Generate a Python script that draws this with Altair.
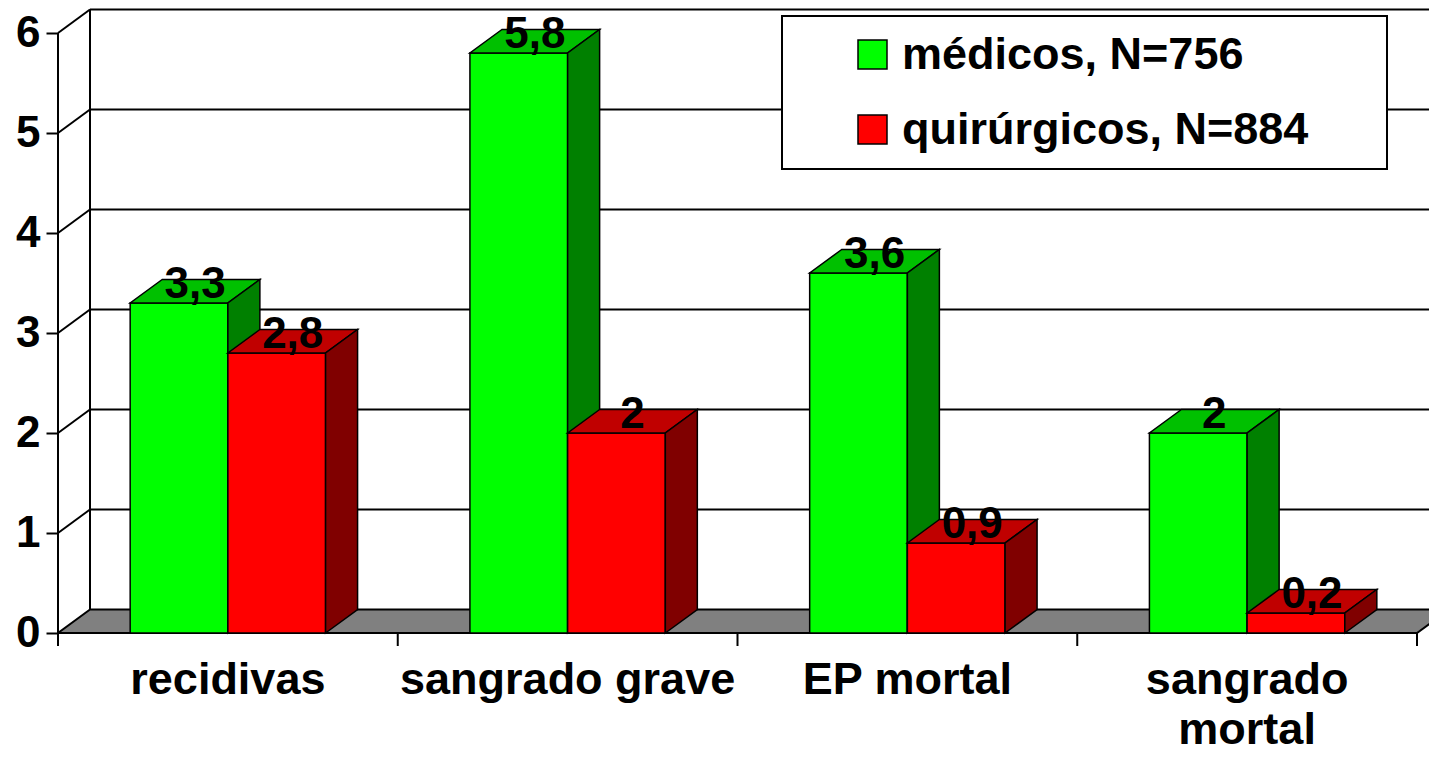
import altair as alt
import pandas as pd

# ---------------- data ----------------
categories = ["recidivas", "sangrado grave", "EP mortal", "sangrado mortal"]
cat_labels = ["recidivas", "sangrado grave", "EP mortal", "sangrado\nmortal"]
series_names = ["médicos, N=756", "quirúrgicos, N=884"]
medicos = [3.3, 5.8, 3.6, 2.0]
quirurgicos = [2.8, 2.0, 0.9, 0.2]
y_ticks = [0, 1, 2, 3, 4, 5, 6]

front_colors = ["#00FF00", "#FF0000"]
top_colors = ["#00C000", "#C00000"]
side_colors = ["#008000", "#800000"]

rows = []
for i, c in enumerate(categories):
    for s, vals in enumerate([medicos, quirurgicos]):
        rows.append({"cat": c, "idx": i, "sidx": s, "series": series_names[s], "value": vals[i]})
bars = pd.DataFrame(rows)
N = len(categories)

# ---------------- geometry ----------------
PX = 339.75            # pixels per category
W, H = 1371, 745
XMAX = W / PX
YMAX = 6.25
YMIN = YMAX - H / 100
DX = 32 / PX           # 3-D depth, horizontal
DY = 0.235             # 3-D depth, vertical
BW = 97.7 / PX         # bar width
TICKLEN = 0.13
FONT = "Liberation Sans"

xs = alt.Scale(domain=[0, XMAX], nice=False, zero=False)
ys = alt.Scale(domain=[YMIN, YMAX], nice=False, zero=False)
yaxis = alt.Axis(values=y_ticks, domain=False, grid=False, ticks=True, tickSize=12,
                 tickWidth=2, tickColor="black", labelFontSize=44, labelFont=FONT,
                 labelFontWeight="bold", labelColor="black", labelPadding=6, title=None)


def X(f):
    return alt.X(f, type="quantitative", scale=xs, axis=None)


def Y(f):
    return alt.Y(f, type="quantitative", scale=ys, axis=yaxis)


# floor
floor = alt.Chart(pd.DataFrame({"t": [0, 1]})).transform_calculate(
    fy=f"datum.t*{DY}", fx=f"datum.t*{DX}", fx2=f"{N}+datum.t*{DX}"
).mark_area(orient="horizontal", fill="#808080", stroke="black", strokeWidth=2, clip=True).encode(
    y=Y("fy"), x=X("fx"), x2=alt.X2("fx2")
)

ticks_df = pd.DataFrame({"v": y_ticks})
back_grid = alt.Chart(ticks_df).transform_filter("datum.v > 0").transform_calculate(
    yb=f"datum.v+{DY}", xb=f"{DX}", xe=f"{XMAX}"
).mark_rule(color="black", strokeWidth=2).encode(y=Y("yb"), x=X("xb"), x2=alt.X2("xe"))

side_grid = alt.Chart(ticks_df).transform_filter("datum.v > 0").transform_calculate(
    y1=f"datum.v+{DY}", x0="0", x1=f"{DX}"
).mark_rule(color="black", strokeWidth=2).encode(
    x=X("x0"), x2=alt.X2("x1"), y=Y("v"), y2=alt.Y2("y1")
)

top_df = pd.DataFrame({"v": [max(y_ticks)]})
back_vert = alt.Chart(top_df).transform_calculate(
    y0=f"{DY}", y1=f"datum.v+{DY}", x0=f"{DX}"
).mark_rule(color="black", strokeWidth=2).encode(x=X("x0"), y=Y("y0"), y2=alt.Y2("y1"))

front_vert = alt.Chart(top_df).transform_calculate(
    y0=f"{-TICKLEN}", x0="0"
).mark_rule(color="black", strokeWidth=2).encode(x=X("x0"), y=Y("y0"), y2=alt.Y2("v"))

bounds = pd.DataFrame({"b": list(range(N + 1))})
x_ticks = alt.Chart(bounds).transform_calculate(
    y0="0", y1=f"{-TICKLEN}"
).mark_rule(color="black", strokeWidth=2).encode(x=X("b"), y=Y("y0"), y2=alt.Y2("y1"))

front_line = alt.Chart(top_df).transform_calculate(
    x0="0", x1=f"{N}", y0="0"
).mark_rule(color="black", strokeWidth=2).encode(x=X("x0"), x2=alt.X2("x1"), y=Y("y0"))

# trailing no-break spaces (kept by a zero-width space) widen the legend frame on the right
PAD_R = "\u00a0" * 5 + "\u200b"
legend = alt.Legend(title=None, orient="none", legendX=724, legendY=8,
                    symbolType="square", symbolSize=841, symbolStrokeColor="black",
                    symbolStrokeWidth=1.5, symbolOffset=52, labelOffset=7,
                    labelFontSize=45, labelFont=FONT, labelFontWeight="bold",
                    labelColor="black", rowPadding=29, labelLimit=1000,
                    labelExpr=f"datum.label + '{PAD_R}'")

base_bars = alt.Chart(bars).transform_calculate(
    x0=f"datum.idx+0.5+(datum.sidx-1)*{BW}",
    x1=f"datum.idx+0.5+datum.sidx*{BW}",
    z="0",
)

bar_layers = []
for s in range(2):
    b = base_bars.transform_filter(f"datum.sidx=={s}")
    front = b.mark_rect(stroke="black", strokeWidth=1.5).encode(
        x=X("x0"), x2=alt.X2("x1"), y=Y("z"), y2=alt.Y2("value"),
        color=alt.Color("series:N", scale=alt.Scale(domain=series_names, range=front_colors),
                        legend=legend),
    )
    depth = b.transform_calculate(t="[0, 1]").transform_flatten(["t"]).transform_calculate(
        ty=f"datum.value+datum.t*{DY}",
        tx0=f"datum.x0+datum.t*{DX}",
        tx1=f"datum.x1+datum.t*{DX}",
        sy0=f"datum.t*{DY}",
    )
    top = depth.mark_area(orient="horizontal", fill=top_colors[s], stroke="black",
                          strokeWidth=1.5).encode(
        y=Y("ty"), x=X("tx0"), x2=alt.X2("tx1"), detail="cat:N"
    )
    side = depth.mark_area(orient="vertical", fill=side_colors[s], stroke="black",
                           strokeWidth=1.5).encode(
        x=X("tx1"), y=Y("sy0"), y2=alt.Y2("ty"), detail="cat:N"
    )
    bar_layers += [front, top, side]

value_labels = alt.Chart(bars).transform_calculate(
    lx=f"datum.idx+0.5+(datum.sidx-0.5)*{BW}+{DX}/2",
    lab="replace(format(datum.value, '.1~f'), '.', ',')",
).mark_text(font=FONT, fontSize=44, fontWeight="bold", color="black",
            baseline="alphabetic", align="center", dy=-5).encode(
    x=X("lx"), y=Y("value"), text="lab:N"
)

cat_df = pd.DataFrame({"idx": list(range(N)), "lab": cat_labels})
cat_text = alt.Chart(cat_df).transform_calculate(
    cx="datum.idx+0.5", z="0"
).mark_text(font=FONT, fontSize=45, fontWeight="bold", color="black",
            baseline="alphabetic", align="center", dy=61, lineBreak="\n",
            lineHeight=50).encode(x=X("cx"), y=Y("z"), text="lab:N")

chart = alt.layer(
    floor, back_grid, side_grid, back_vert, front_vert, front_line, x_ticks,
    *bar_layers, value_labels, cat_text
).properties(
    width=W, height=H,
    padding={"left": 50, "top": 0, "right": 0, "bottom": 0},
    autosize=alt.AutoSizeParams(type="none"),
).configure_view(strokeWidth=0).configure_legend(
    padding=16, fillColor="white", strokeColor="black", strokeWidth=2
)

chart.save("out.html", embed_options={"renderer": "svg", "actions": False})
